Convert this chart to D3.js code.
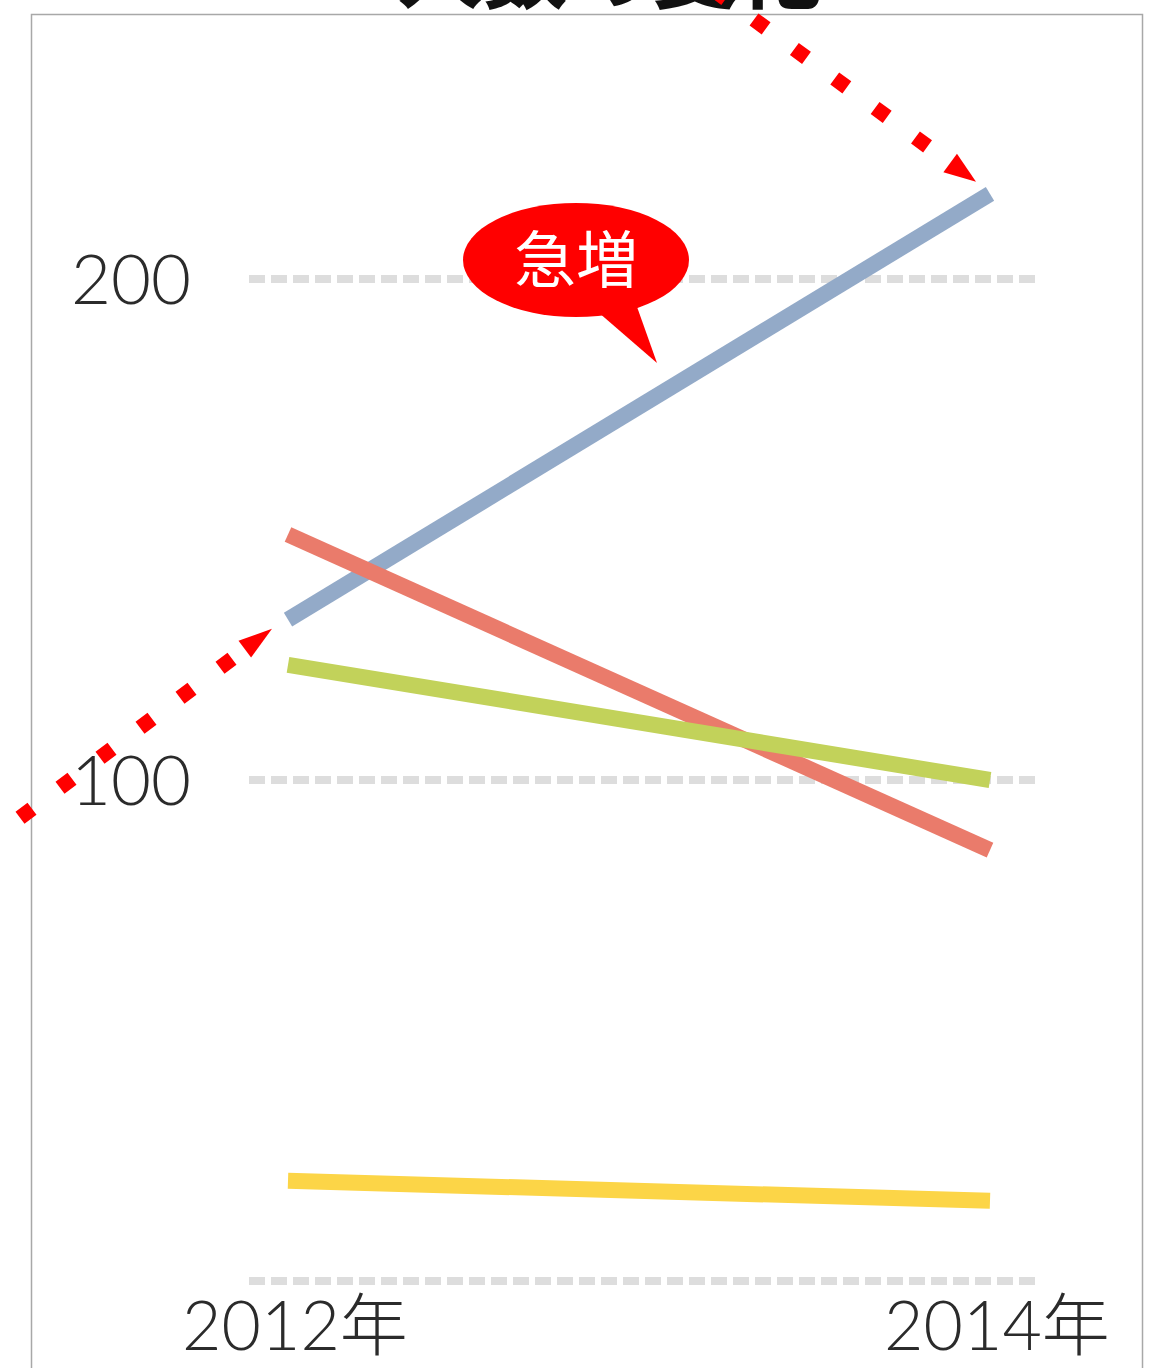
<!DOCTYPE html>
<html>
<head>
<meta charset="utf-8">
<script src="https://cdn.jsdelivr.net/npm/d3@7"></script>
<style>
  body { margin: 0; background: #fff; }
  text { font-family: "Noto Sans CJK JP", "Noto Sans", sans-serif; }
  .tick-label { font-family: Lato, "Noto Sans CJK JP", sans-serif; }
</style>
</head>
<body>
<svg id="chart" width="1169" height="1368"></svg>
<script>
// data
const years = ["2012年", "2014年"];
const blueValues = [132, 217];
const redValues = [149, 86];
const greenValues = [123, 100];
const yellowValues = [20, 16];
const yTicks = [0, 100, 200];
const titleText = "人数の変化";
const calloutText = "急増";

const colors = {
    blue: "#93aac8",
    red: "#ea7b6b",
    green: "#c2d25a",
    yellow: "#fcd547"
};

const series = [
    { name: "yellow", values: yellowValues },
    { name: "blue", values: blueValues },
    { name: "red", values: redValues },
    { name: "green", values: greenValues }
];

const svg = d3.select("#chart");

const x = d3.scalePoint().domain(years).range([288, 990]);
const y = d3.scaleLinear().domain([0, 200]).range([1281, 279]);

// frame
svg.append("rect")
    .attr("x", 31.5).attr("y", 14.5)
    .attr("width", 1111).attr("height", 1420)
    .attr("fill", "none")
    .attr("stroke", "#a8a8a8")
    .attr("stroke-width", 1.5);

// title (cut off by the top edge, as in the original)
svg.append("text")
    .attr("x", 610).attr("y", 2)
    .attr("text-anchor", "middle")
    .attr("font-size", 85)
    .attr("font-weight", 700)
    .attr("fill", "#111")
    .text(titleText);

// gridlines
svg.append("g")
    .selectAll("line")
    .data(yTicks)
    .join("line")
    .attr("x1", 249).attr("x2", 1040)
    .attr("y1", d => y(d)).attr("y2", d => y(d))
    .attr("stroke", "#dddddd")
    .attr("stroke-width", 8)
    .attr("stroke-dasharray", "16,6");

// y labels (no label at 0)
svg.append("g")
    .selectAll("text")
    .data(yTicks.filter(d => d > 0))
    .join("text")
    .attr("class", "tick-label")
    .attr("x", 191)
    .attr("y", d => y(d) + 25)
    .attr("text-anchor", "end")
    .attr("font-size", 69)
    .attr("font-weight", 300)
    .attr("fill", "#2b2b2b")
    .text(d => d);

// x labels
svg.append("g")
    .selectAll("text")
    .data(years)
    .join("text")
    .attr("class", "tick-label")
    .attr("x", d => x(d) + 7)
    .attr("y", 1350)
    .attr("text-anchor", "middle")
    .attr("font-size", 68)
    .attr("font-weight", 300)
    .attr("fill", "#2b2b2b")
    .text(d => d);

// lines
const line = d3.line()
    .x((d, i) => x(years[i]))
    .y(d => y(d));

svg.append("g")
    .selectAll("path")
    .data(series)
    .join("path")
    .attr("d", d => line(d.values))
    .attr("fill", "none")
    .attr("stroke", d => colors[d.name])
    .attr("stroke-width", 16)
    .attr("stroke-linecap", "butt");

// callout bubble
const bubble = svg.append("g");
bubble.append("ellipse")
    .attr("cx", 576).attr("cy", 260)
    .attr("rx", 113).attr("ry", 57)
    .attr("fill", "#ff0000");
bubble.append("polygon")
    .attr("points", "598,312 636,304 657,363")
    .attr("fill", "#ff0000");
bubble.append("text")
    .attr("x", 576).attr("y", 283)
    .attr("text-anchor", "middle")
    .attr("font-size", 62)
    .attr("font-weight", 400)
    .attr("fill", "#fff")
    .text(calloutText);

// dotted red arrows pointing at the blue series ends
function drawArrow(tip, angle, headLen, headHalf, lastGap, count) {
    const ux = Math.cos(angle), uy = Math.sin(angle);
    const base = [tip[0] - headLen * ux, tip[1] - headLen * uy];
    const len = (count - 1) * 50 + 15 + lastGap;
    const start = [base[0] - len * ux, base[1] - len * uy];
    svg.append("line")
        .attr("x1", start[0]).attr("y1", start[1])
        .attr("x2", base[0]).attr("y2", base[1])
        .attr("stroke", "#ff0000")
        .attr("stroke-width", 15)
        .attr("stroke-dasharray", "15,35");
    const px = -uy, py = ux;
    svg.append("polygon")
        .attr("points", [
            tip,
            [base[0] + headHalf * px, base[1] + headHalf * py],
            [base[0] - headHalf * px, base[1] - headHalf * py]
        ].map(p => p.join(",")).join(" "))
        .attr("fill", "#ff0000");
}

drawArrow([x(years[0]) - 16, y(blueValues[0]) + 9], Math.atan2(-0.6, 0.8), 34, 10.5, 16, 7);
drawArrow([x(years[1]) - 14, y(blueValues[1]) - 12], Math.atan2(0.59, 0.807), 32, 11.5, 28, 7);
</script>
</body>
</html>
